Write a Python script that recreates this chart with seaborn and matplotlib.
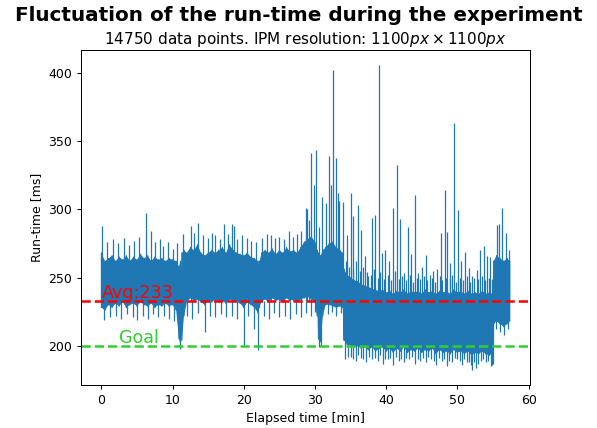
import numpy as np
import pandas as pd
import matplotlib
matplotlib.use("Agg")
import matplotlib.pyplot as plt
import seaborn as sns

# Dense band of run-times: envelope (lower / upper edge) over elapsed minutes.
# NaN marks the short interruptions in the recording.
env_min = [0.0, 0.5, 1.0, 1.5, 2.0, 2.5, 3.0, 3.5, 4.0, 4.5, 5.0, 5.5, 6.0, 6.5,
           7.0, 7.5, 8.0, 8.5, 9.0, 9.5, 10.0, 10.5, 10.9, 11.1, 11.2, 11.3, 11.6,
           12.0, 12.5, 13.0, 13.5, 14.0, 14.5, 15.0, 15.5, 16.0, 16.5, 17.0, 17.5,
           18.0, 18.5, 19.0, 19.5, 20.0, 20.5, 21.0, 21.5, 22.0, 22.1, 22.2, 22.5,
           23.0, 23.5, 24.0, 24.5, 25.0, 25.5, 26.0, 26.5, 27.0, 27.5, 28.0, 28.5,
           29.0, 29.5, 30.0, 30.3, 30.4, 30.5, 30.8, 31.1, 31.5, 32.0, 32.5, 33.0,
           33.5, 33.9, 34.1, 34.5, 35.0, 35.5, 36.0, 36.5, 37.0, 37.5, 38.0, 38.5,
           39.0, 39.5, 40.0, 40.5, 41.0, 41.5, 42.0, 42.5, 43.0, 43.5, 44.0, 44.5,
           45.0, 45.5, 46.0, 46.5, 47.0, 47.5, 48.0, 48.5, 49.0, 49.5, 50.0, 50.5,
           51.0, 51.5, 52.0, 52.5, 53.0, 53.5, 54.0, 54.5, 55.0, 55.1, 55.5, 56.0,
           56.5, 57.0, 57.35]
band_low = [228, 226, 230, 228, 231, 229, 232, 228, 230, 231, 229, 232, 230, 229,
            231, 228, 230, 229, 231, 229, 230, 226, 205, 202, np.nan, 204, 222,
            232, 235, 233, 234, 232, 230, 233, 232, 234, 232, 233, 231,
            234, 233, 232, 231, 228, 232, 230, 228, 224, np.nan, 228, 233,
            234, 232, 235, 233, 234, 232, 235, 233, 234, 232, 234, 235,
            236, 234, 232, 222, np.nan, 205, 203, 222, 230, 230, 229, 228,
            229, 228, 204, 201, 200, 199, 200, 198, 199, 197, 199, 196,
            198, 199, 196, 198, 195, 198, 196, 199, 195, 197, 196, 198,
            195, 197, 196, 198, 194, 197, 195, 196, 194, 197, 195, 196,
            194, 196, 193, 195, 194, 196, 194, 193, 195, 216, 218, 216,
            214, 216, 218]
band_high = [268, 262, 264, 266, 262, 265, 263, 266, 262, 265, 263, 267, 264, 266,
             262, 265, 263, 264, 262, 264, 263, 262, 258, 262, np.nan, 268, 270,
             268, 272, 270, 274, 268, 266, 268, 270, 268, 270, 272, 268,
             274, 270, 268, 267, 266, 268, 265, 264, 262, np.nan, 262, 268,
             270, 268, 271, 267, 270, 268, 272, 269, 270, 268, 272, 276,
             278, 280, 276, 270, np.nan, 268, 266, 270, 272, 275, 276, 272,
             270, 268, 256, 252, 250, 248, 247, 245, 244, 243, 242, 241,
             240, 241, 239, 240, 238, 240, 239, 241, 238, 240, 239, 240,
             238, 241, 239, 240, 238, 240, 239, 240, 238, 241, 239, 240,
             238, 240, 238, 239, 238, 240, 238, 239, 238, 262, 266, 264,
             262, 264, 262]

# Isolated upward excursions (minute, ms)
peak_min = [0.05, 0.8, 1.6, 2.3, 3.1, 3.9, 4.6, 5.3, 6.2, 6.9, 7.5, 8.2, 8.6, 9.3,
            10.0, 10.6, 11.5, 12.6, 13.0, 13.5, 14.2, 14.9, 15.5, 16.0, 16.7, 17.2,
            17.8, 18.4, 18.6, 19.1, 19.7, 20.4, 21.0, 21.7, 22.6, 23.2, 23.8, 24.4,
            25.0, 25.6, 26.3, 26.9, 27.5, 28.1, 28.7, 28.9, 29.2, 29.5, 29.8, 30.07,
            30.55, 31.0, 31.5, 31.9, 32.2, 32.5, 32.96, 33.2, 33.4, 33.9, 34.5, 35.06,
            35.4, 36.0, 36.5, 37.0, 37.5, 38.0, 38.46, 39.0, 39.4, 39.9, 40.4, 40.9,
            41.5, 41.96, 42.5, 43.0, 43.5, 44.05, 44.5, 45.0, 45.6, 46.1, 46.6, 47.2,
            47.7, 48.2, 48.6, 49.0, 49.5, 50.1, 50.5, 51.1, 51.6, 52.0, 52.7, 53.2,
            53.7, 54.2, 54.6, 55.6, 55.9, 56.2, 56.8, 57.3,
            34.3, 34.8, 35.3, 35.8, 36.3, 36.8, 37.3, 37.8, 38.3, 38.8, 39.2, 39.7,
            40.2, 40.7, 41.2, 41.8, 42.2, 42.8, 43.3, 43.8, 44.3, 44.8, 45.3, 45.8,
            46.4, 46.9, 47.5, 47.9, 48.4, 48.9, 49.3, 49.8, 50.3, 50.8, 51.3, 51.8,
            52.3, 52.9, 53.5, 53.9, 54.4, 54.8]
peak_ms = [288, 276, 278, 275, 279, 274, 277, 280, 297, 284, 276, 278, 273, 276,
           271, 275, 282, 288, 283, 290, 281, 279, 283, 281, 278, 289,
           282, 289, 288, 278, 281, 279, 277, 276, 279, 282, 281, 279,
           280, 278, 284, 280, 282, 284, 301, 300, 292, 341.6, 318, 343.6,
           287, 309, 304.6, 339.4, 318, 402, 337.5, 312, 306, 305, 281, 312,
           295, 303, 284.5, 266, 251, 293.5, 295.5, 405.5, 268, 270, 262, 301,
           332.6, 293, 253, 286.7, 267, 310.6, 253, 258, 266.7, 252, 255, 256,
           282.6, 313.8, 283.7, 261, 363, 299.6, 262, 268.6, 257, 251, 255.7, 270,
           272.8, 266, 265, 288.6, 289, 301, 282.6, 270,
           262, 258, 256, 262, 255, 258, 254, 252, 256, 250, 254, 249,
           252, 248, 255, 249, 251, 248, 252, 247, 250, 249, 251, 248,
           250, 247, 251, 248, 250, 249, 252, 247, 250, 248, 251, 247,
           250, 249, 251, 248, 250, 249]

# Isolated downward excursions (minute, ms)
dip_min = [0.3, 1.2, 2.0, 2.8, 3.6, 4.4, 5.0, 5.8, 6.5, 7.3, 8.0, 8.8, 9.5, 10.2,
           11.0, 12.0, 12.7, 13.5, 14.5, 15.2, 16.0, 16.8, 17.5, 18.3, 19.0, 20.0,
           20.6, 21.4, 22.05, 22.8, 23.5, 24.3, 25.0, 25.8, 26.5, 27.3, 28.0, 28.7,
           29.4, 30.0, 30.6, 30.9, 31.8, 32.4, 33.0, 33.6, 34.2, 35.0, 35.8, 36.5,
           37.2, 38.0, 38.8, 39.5, 40.3, 41.0, 41.8, 42.5, 43.2, 44.0, 44.8, 45.6,
           46.3, 47.0, 47.8, 48.5, 49.2, 50.0, 50.6, 51.3, 52.1, 52.6, 53.3, 54.0,
           54.7, 55.0, 55.4, 56.0, 56.6, 57.1,
           34.6, 35.3, 36.1, 36.8, 37.6, 38.4, 39.2, 39.8, 40.6, 41.4, 42.1, 42.8,
           43.6, 44.4, 45.2, 45.9, 46.7, 47.4, 48.1, 48.8, 49.6, 50.3, 50.9, 51.6,
           51.9, 52.4, 52.9, 53.6, 54.3, 54.9]
dip_ms = [219, 221, 222, 220, 223, 221, 219, 222, 220, 223, 221, 222, 220, 218,
          198, 222, 220, 224, 210, 222, 221, 223, 221, 222, 220, 200,
          222, 212, 197, 222, 220, 224, 221, 222, 220, 223, 221, 224,
          222, 225, 199, 200, 223, 225, 222, 224, 190, 192, 189, 191,
          188, 190, 189, 187, 190, 186, 189, 188, 190, 187, 189, 188,
          190, 186, 189, 185, 188, 190, 186, 188, 182.5, 184, 189, 188,
          185, 187, 212, 210, 208, 212,
          192, 190, 193, 190, 192, 191, 193, 190, 191, 192, 190, 191,
          192, 190, 191, 192, 189, 191, 190, 189, 191, 189, 190, 188,
          186, 188, 187, 190, 189, 186]

avg_ms = 233
goal_ms = 200
n_points = 14750

# Run-time trace through the band envelope, in time order
band = pd.DataFrame({"minute": np.repeat(env_min, 2),
                     "ms": np.column_stack([band_low, band_high]).ravel()})

sns.set_style("ticks", {"axes.edgecolor": "black", "text.color": "black",
                        "xtick.color": "black", "ytick.color": "black",
                        "axes.labelcolor": "black"})
plt.rcParams["font.family"] = ["DejaVu Sans"]

dpi = 90
fig = plt.figure(figsize=(597 / dpi, 428 / dpi), dpi=dpi)
ax = fig.add_axes([81 / 597, 1 - 385 / 428, 449 / 597, 335 / 428])

blue = "#1f77b4"
ax.fill_between(env_min, band_low, band_high, color=blue, linewidth=0)
sns.lineplot(data=band, x="minute", y="ms", ax=ax, color=blue, linewidth=1.0,
             estimator=None, sort=False)
# single-sample excursions leave the band as thin vertical strokes
ax.vlines(peak_min, avg_ms, peak_ms, color=blue, linewidth=1.0)
ax.vlines(dip_min, avg_ms, dip_ms, color=blue, linewidth=1.0)

ax.axhline(avg_ms, color="red", linestyle="--", linewidth=2)
ax.axhline(goal_ms, color="limegreen", linestyle="--", linewidth=2)
ax.text(0.05, avg_ms + 2, f"Avg:{avg_ms}", color="red", fontsize=14, va="baseline")
ax.text(2.4, goal_ms + 2.4, "Goal", color="limegreen", fontsize=14, va="baseline")

ax.set_xlim(-2.87, 60.2)
ax.set_ylim(171.3, 416.7)
ax.set_xticks([0, 10, 20, 30, 40, 50, 60])
ax.set_yticks([200, 250, 300, 350, 400])
ax.tick_params(labelsize=10)
ax.set_xlabel("Elapsed time [min]", fontsize=10)
ax.set_ylabel("Run-time [ms]", fontsize=10)

fig.suptitle("Fluctuation of the run-time during the experiment",
             fontsize=16, fontweight="bold", y=0.986)
ax.set_title(f"{n_points} data points. IPM resolution: $1100px \\times 1100px$",
             fontsize=12.2, pad=5)

fig.savefig("out.png", dpi=dpi)
